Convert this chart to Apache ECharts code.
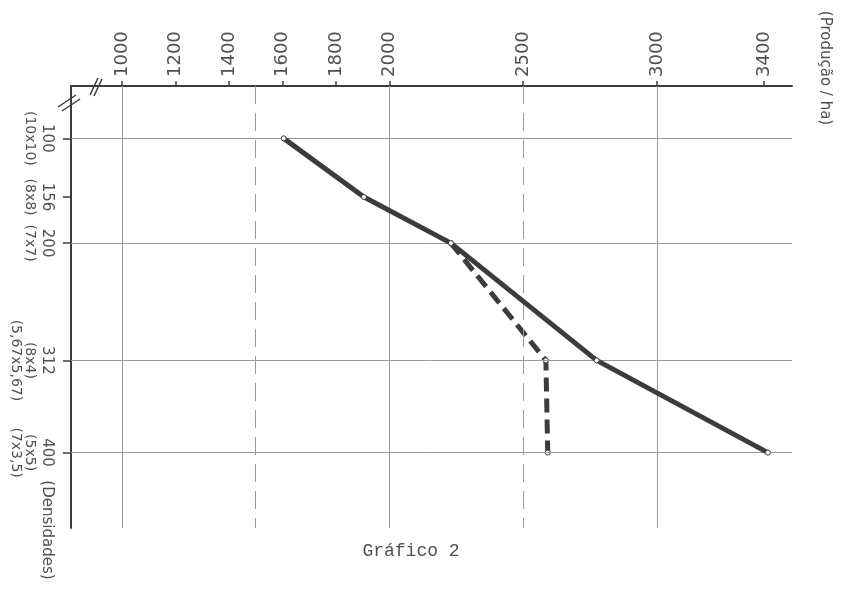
<!DOCTYPE html>
<html><head><meta charset="utf-8">
<script src="https://cdn.jsdelivr.net/npm/echarts@6/dist/echarts.min.js"></script>
<style>html,body{margin:0;padding:0;background:#fff}#c{width:842px;height:597px}</style>
</head><body><div id="c"></div>
<script>
// ---- data ----
const densities = [100, 156, 200, 312, 400];
const spacingLabels = [["(10x10)"], ["(8x8)"], ["(7x7)"], ["(8x4)", "(5,67x5,67)"], ["(5x5)", "(7x3,5)"]];
const productionTicks = [1000, 1200, 1400, 1600, 1800, 2000, 2500, 3000, 3400];
const solidGridX = [1000, 2000, 3000];
const dashedGridX = [1500, 2500];
const gridY = [100, 200, 312, 400];
const solidDensity = [100, 156, 200, 312, 400];
const solidProduction = [1605, 1905, 2230, 2775, 3415];
const dashedDensity = [200, 312, 400];
const dashedProduction = [2230, 2585, 2592];
const xName = "(Produção / ha)";
const yName = "(Densidades)";
const caption = "Gráfico 2";

const chart = echarts.init(document.getElementById('c'), null, {renderer: 'canvas'});
const ink = '#3c3c3c';
const txt = '#505050';
const font = 'DejaVu Sans';

const gridMarks = []
  .concat(solidGridX.map(v => ({xAxis: v, lineStyle: {type: 'solid'}})))
  .concat(dashedGridX.map(v => ({xAxis: v, lineStyle: {type: [18, 9]}})))
  .concat(gridY.map(v => ({yAxis: v, lineStyle: {type: 'solid'}})));

const option = {
  animation: false,
  backgroundColor: '#fff',
  grid: {left: 71, right: 50, top: 86, bottom: 69, containLabel: false},
  xAxis: {
    type: 'value', position: 'top', min: 810, max: 3505,
    axisLine: {show: true, lineStyle: {color: ink, width: 2}},
    axisTick: {show: true, customValues: productionTicks, length: 5, lineStyle: {color: ink, width: 1.5}},
    axisLabel: {show: true, customValues: productionTicks, rotate: -90, margin: 9,
      formatter: v => String(v),
      fontFamily: font, fontSize: 18, color: txt},
    splitLine: {show: false}
  },
  yAxis: {
    type: 'value', inverse: true, position: 'left', min: 50, max: 472,
    axisLine: {show: true, lineStyle: {color: ink, width: 2}},
    axisTick: {show: true, customValues: densities, length: 8, lineStyle: {color: ink, width: 1.5}},
    axisLabel: {show: true, customValues: densities, rotate: -90, margin: 15,
      formatter: function (v) {
        const i = densities.indexOf(v);
        let s = '{a|' + v + '}';
        if (i >= 0) spacingLabels[i].forEach(t => { s += '\n{b|' + t + '}'; });
        return s;
      },
      rich: {
        a: {fontFamily: font, fontSize: 15, color: txt, lineHeight: 19},
        b: {fontFamily: font, fontSize: 14, color: txt, lineHeight: 14}
      }
    },
    splitLine: {show: false}
  },
  series: [
    {
      type: 'line', name: 'grid', data: [], z: 1, silent: true,
      markLine: {silent: true, symbol: 'none', label: {show: false},
        lineStyle: {color: '#999', width: 1},
        data: gridMarks}
    },
    {
      type: 'line', name: 'solid', z: 5,
      data: solidDensity.map((d, i) => [solidProduction[i], d]),
      lineStyle: {color: ink, width: 5, cap: 'round', join: 'round'},
      symbol: 'circle', symbolSize: 5, showAllSymbol: true,
      itemStyle: {color: '#fff', borderColor: ink, borderWidth: 1}
    },
    {
      type: 'line', name: 'dashed', z: 4,
      data: dashedDensity.map((d, i) => [dashedProduction[i], d]),
      lineStyle: {color: ink, width: 5, type: [14, 7]},
      symbol: 'circle', symbolSize: 5, showAllSymbol: true,
      itemStyle: {color: '#fff', borderColor: ink, borderWidth: 1}
    }
  ],
  graphic: [
    {type: 'text', x: 825, y: 68, rotation: -Math.PI / 2,
      style: {text: xName, font: '15px "DejaVu Sans"', fill: txt, align: 'center', verticalAlign: 'middle'}},
    {type: 'text', x: 47, y: 530, rotation: -Math.PI / 2,
      style: {text: yName, font: '15px "DejaVu Sans"', fill: txt, align: 'center', verticalAlign: 'middle'}},
    {type: 'text', x: 411, y: 551,
      style: {text: caption, font: '18px "Liberation Mono"', fill: txt, align: 'center', verticalAlign: 'middle'}},
    {type: 'line', shape: {x1: 90, y1: 95, x2: 98, y2: 78}, style: {stroke: ink, lineWidth: 1.5}},
    {type: 'line', shape: {x1: 94, y1: 96, x2: 102, y2: 79}, style: {stroke: ink, lineWidth: 1.5}},
    {type: 'line', shape: {x1: 58, y1: 107, x2: 76, y2: 95}, style: {stroke: ink, lineWidth: 1.5}},
    {type: 'line', shape: {x1: 62, y1: 111, x2: 80, y2: 99}, style: {stroke: ink, lineWidth: 1.5}}
  ]
};
chart.setOption(option);
</script>
</body></html>
